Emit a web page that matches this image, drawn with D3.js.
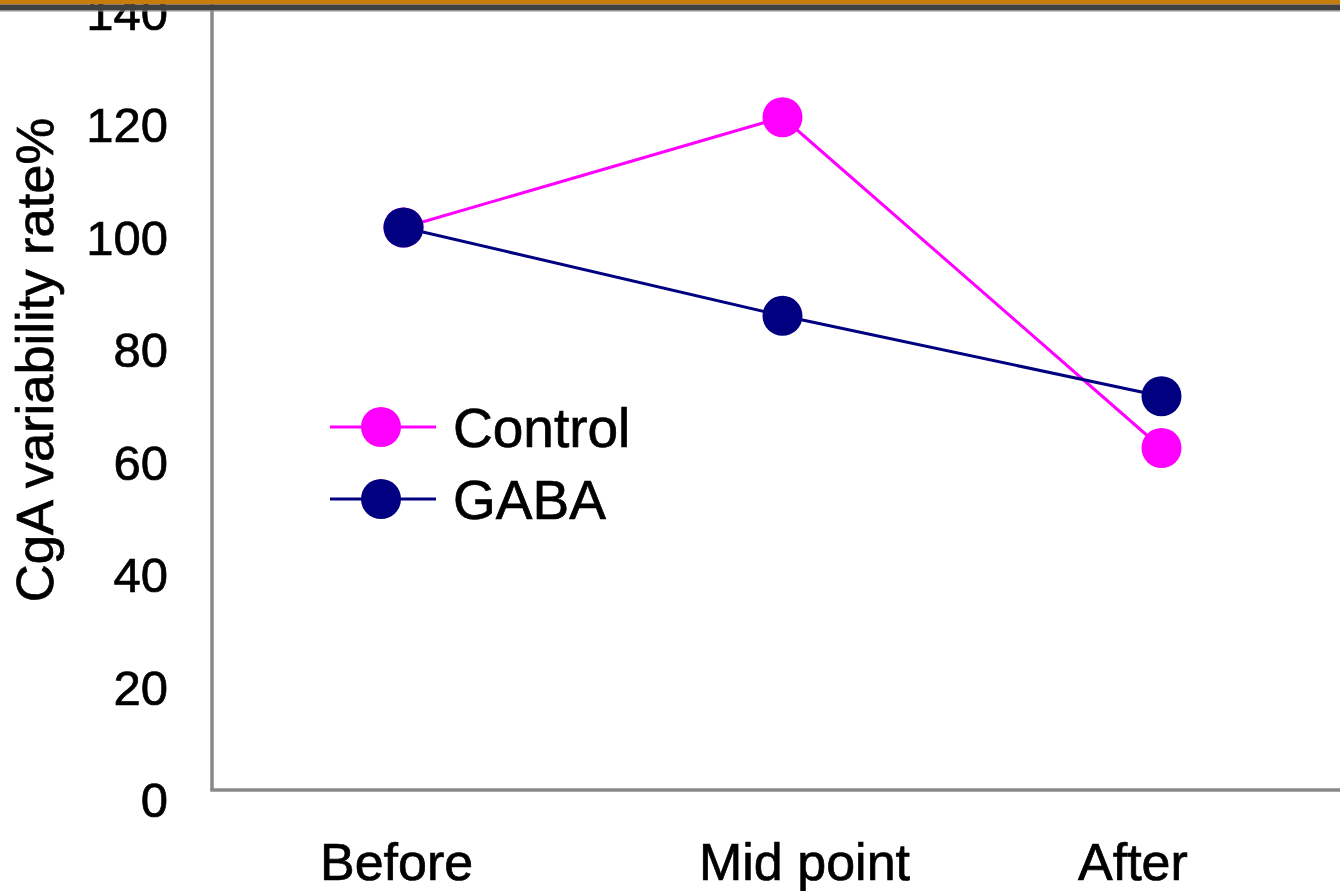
<!DOCTYPE html>
<html>
<head>
<meta charset="utf-8">
<script src="https://cdn.jsdelivr.net/npm/d3@7"></script>
<style>
  html, body { margin: 0; padding: 0; background: #ffffff; }
  svg { display: block; font-family: "Liberation Sans", Arial, Helvetica, sans-serif; }
  svg text { stroke: #000; stroke-width: 0.7px; }
</style>
</head>
<body>
<svg id="chart" width="1340" height="891"></svg>
<script>
// Time points on the x axis
const categories = ["Before", "Mid point", "After"];
// CgA variability rate (%) per group
const controlValues = [100, 119.6, 60.8];
const gabaValues = [100, 84.3, 70.0];
// Y axis tick values
const yTicks = [0, 20, 40, 60, 80, 100, 120, 140];
const seriesNames = ["Control", "GABA"];
const seriesColors = ["#ff00ff", "#000080"];

const series = [
  { name: seriesNames[0], values: controlValues, color: seriesColors[0] },
  { name: seriesNames[1], values: gabaValues, color: seriesColors[1] }
];

const svg = d3.select("#chart");
const axisLeftX = 212, axisBottomY = 790;

const x = d3.scaleBand().domain(categories).range([214, 1351]);
const y = d3.scaleLinear().domain([0, 140]).range([axisBottomY, 2.5]);

// Axes lines (no tick marks)
const axisColor = "#888888";
svg.append("line")
  .attr("x1", axisLeftX).attr("x2", axisLeftX)
  .attr("y1", y(140)).attr("y2", axisBottomY)
  .attr("stroke", axisColor).attr("stroke-width", 3.5);
svg.append("line")
  .attr("x1", axisLeftX - 1.75).attr("x2", 1340)
  .attr("y1", axisBottomY).attr("y2", axisBottomY)
  .attr("stroke", axisColor).attr("stroke-width", 3.5);

// Y tick labels
svg.append("g").selectAll("text")
  .data(yTicks).join("text")
  .attr("x", 168)
  .attr("y", d => y(d) + 10)
  .attr("dy", "0.35em")
  .attr("text-anchor", "end")
  .attr("font-size", 49)
  .attr("fill", "#000")
  .text(d => d);

// X category labels, left-aligned inside each band
svg.append("g").selectAll("text")
  .data(categories).join("text")
  .attr("x", d => x(d) + 106)
  .attr("y", 880)
  .attr("font-size", 52)
  .attr("fill", "#000")
  .text(d => d);

// Y axis title
svg.append("text")
  .attr("transform", "translate(53,360) rotate(-90)")
  .attr("text-anchor", "middle")
  .attr("font-size", 52.5)
  .attr("fill", "#000")
  .text("CgA variability rate%");

// Series lines and markers
const line = d3.line()
  .x((d, i) => x(categories[i]) + x.bandwidth() / 2)
  .y(d => y(d));

series.forEach(s => {
  const g = svg.append("g");
  g.append("path")
    .attr("d", line(s.values))
    .attr("fill", "none")
    .attr("stroke", s.color)
    .attr("stroke-width", 3);
  g.selectAll("circle")
    .data(s.values).join("circle")
    .attr("cx", (d, i) => x(categories[i]) + x.bandwidth() / 2)
    .attr("cy", d => y(d))
    .attr("r", 20)
    .attr("fill", s.color);
});

// Legend
const legend = svg.append("g");
series.forEach((s, i) => {
  const cy = 427 + i * 72;
  legend.append("line")
    .attr("x1", 330).attr("x2", 436)
    .attr("y1", cy).attr("y2", cy)
    .attr("stroke", s.color).attr("stroke-width", 3);
  legend.append("circle")
    .attr("cx", 381).attr("cy", cy).attr("r", 20)
    .attr("fill", s.color);
  legend.append("text")
    .attr("x", 453).attr("y", cy + 20)
    .attr("font-size", 55)
    .attr("fill", "#000")
    .text(s.name);
});

// Header band across the top
svg.append("rect").attr("x", 0).attr("y", 0).attr("width", 1340).attr("height", 4.5).attr("fill", "#c67d0b");
svg.append("rect").attr("x", 0).attr("y", 4.5).attr("width", 1340).attr("height", 6).attr("fill", "#404040");
svg.append("rect").attr("x", 0).attr("y", 10.5).attr("width", 1340).attr("height", 1).attr("fill", "#8c8c8c");
</script>
</body>
</html>
